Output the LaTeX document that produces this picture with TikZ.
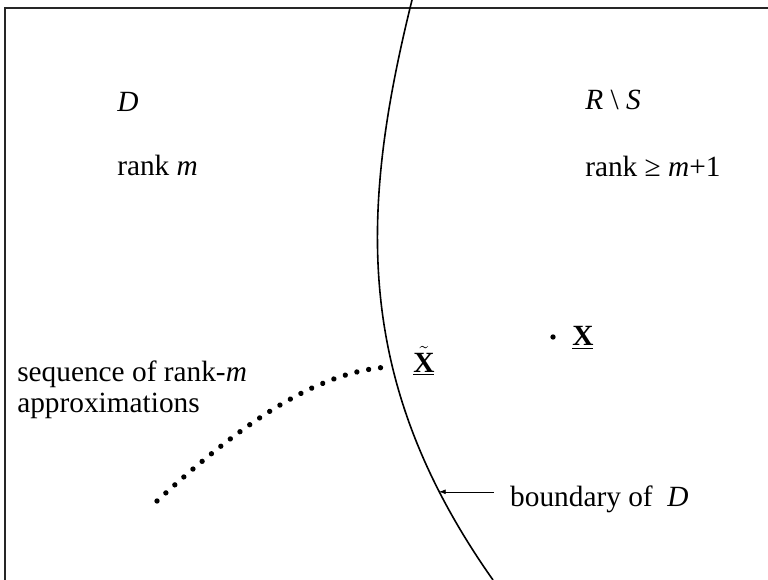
\documentclass[tikz,border=0pt]{standalone}
\usepackage{fontspec}
\setmainfont{Liberation Serif}
\usetikzlibrary{arrows.meta, positioning, decorations.markings}

\tikzset{
  lbl/.style={inner sep=0pt, font=\fontsize{22}{25}\selectfont},
  frameline/.style={line width=1.6pt, black!85},
  bndline/.style={line width=1.2pt},
  approx/.style={decoration={markings,
      mark=between positions 0 and 1 step 0.04347 with {\fill (0,0) circle (2pt);}},
    postaction={decorate}},
  pt/.style={circle, fill, inner sep=0pt, minimum size=4pt}
}

\begin{document}
\begin{tikzpicture}[x=0.75pt, y=-0.75pt, >=Latex]
      \useasboundingbox (0,0) rectangle (768,580);
      % Frame
      \draw[frameline] (4,8) -- (768,8);
      \draw[frameline] (5,8) -- (5,580);
      % Boundary of D
      \draw[bndline] (412,0) .. controls (360,210) and (352,380) .. (493,580)
        coordinate[pos=0.63] (xt) coordinate[pos=0.85] (bnd);
      % Regions
      \node[lbl, anchor=base west] (lD) at (117,112) {\textit{D}};
      \node[lbl, anchor=base west] (lrm) at (117,176) {rank \textit{m}};
      \node[lbl, anchor=base west] (lRS) at (585,110) {\textit{R} \textbackslash\ \textit{S}};
      \node[lbl, anchor=base west] (lrk) at (585,177) {rank ≥ \textit{m}+1};
      % Approximations
      \node[lbl, anchor=base west] (lseq) at (17,382) {sequence of rank-\textit{m}};
      \node[lbl, anchor=base west] (lapp) at (17,413) {approximations};
      \path[approx] (157,501) .. controls (245,420) and (320,370) .. (xt);
      \node[lbl, anchor=base west] (lxt) at ([xshift=15.5pt, yshift=-4pt]xt)
        {$\underline{\tilde{\mbox{\textbf{X}}}}$};
      % Point X
      \node[pt] (xpt) at (553,337) {};
      \node[lbl, anchor=base west] (lx) at ([xshift=14.25pt, yshift=-6.75pt]xpt)
        {\underline{\textbf{X}}};
      % Arrow to boundary
      \node[lbl, right=53pt of bnd, yshift=-6pt] (lB) {boundary of\ \ \textit{D}};
      \draw[->, shorten <=12pt] (bnd -| lB.west) -- (bnd);
\end{tikzpicture}
\end{document}
